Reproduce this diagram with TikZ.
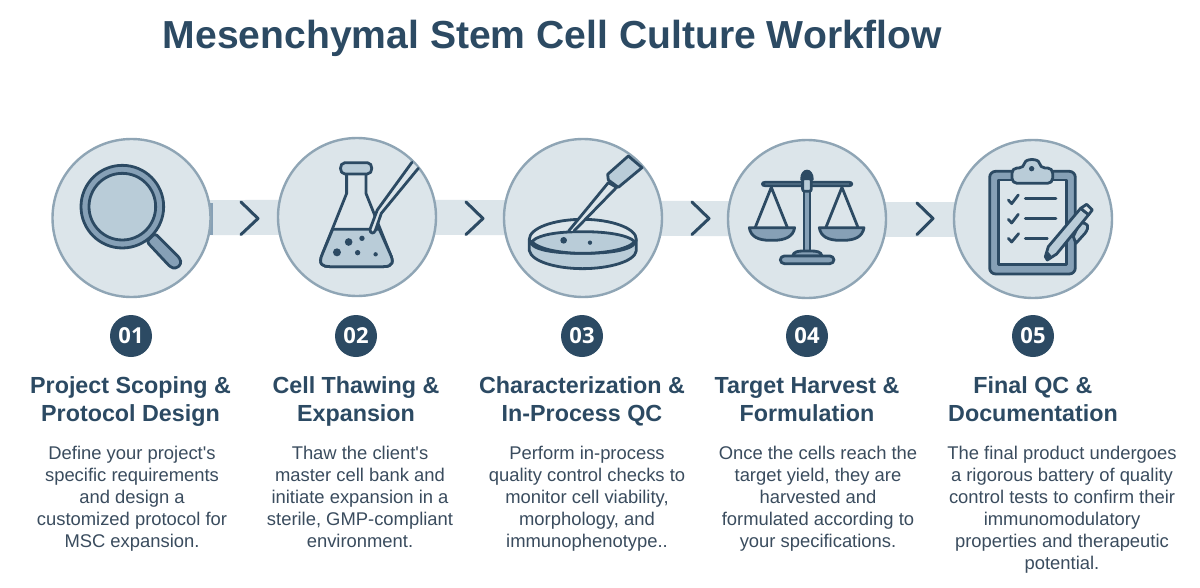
\documentclass[tikz,border=0pt]{standalone}
\usepackage{fontspec}
\setmainfont{Liberation Sans}[Ligatures=TeXOff]
\newfontfamily\badgefont{Open Sans}
\definecolor{ink}{HTML}{2C4A63}
\definecolor{disc}{HTML}{DCE5EA}
\definecolor{rim}{HTML}{8FA5B5}
\definecolor{pale}{HTML}{B9CCD8}
\definecolor{mid}{HTML}{86A0B6}
\definecolor{body}{HTML}{3A4C5E}
\tikzset{
  disc/.style={circle,draw=rim,fill=disc,line width=2.4pt,minimum size=158pt,inner sep=0pt},
  band/.style={draw=disc,line width=35pt},
  chev/.style={draw=ink,line width=3pt,line cap=round,line join=round},
  badge/.style={circle,fill=ink,minimum size=42pt,inner sep=0pt,text=white,font=\badgefont\fontsize{22}{22}\selectfont\bfseries},
  head/.style={align=center,text=ink,anchor=north,font=\fontsize{23.3}{28}\selectfont\bfseries},
  txt/.style={align=center,text=body,anchor=north,font=\fontsize{18.4}{22}\selectfont},
  ic/.style={draw=ink,line width=2.8pt,line join=round,line cap=round},
  zoomA/.style={shift={(40,130)},x=0.3333pt,y=-0.3333pt},
  zoomB/.style={shift={(440,130)},x=0.3333pt,y=-0.3333pt},
  zoomC/.style={shift={(840,130)},x=0.3333pt,y=-0.3333pt},
}
\begin{document}
\begin{tikzpicture}[x=1pt,y=-1pt]
\useasboundingbox (0,0) rectangle (1200,587);
\fill[white] (0,0) rectangle (1200,587);
\node[anchor=center,text=ink,font=\fontsize{39.1}{42}\selectfont\bfseries] (title) at (552.5,38.5) {Mesenchymal Stem Cell Culture Workflow};
% discs positions
\coordinate (c1) at (131.5,218);
\coordinate (c2) at (357,217);
\coordinate (c3) at (583,218);
\coordinate (c4) at (807,219);
\coordinate (c5) at (1033,219);
\draw[band] (c1) -- (c2);
\draw[band] (c2) -- (c3);
\draw[band] (c3) -- (c4);
\draw[band] (c4) -- (c5);
\draw[draw=mid,line width=3pt] (211.5,203) -- (211.5,235);
\node[disc] (d1) at (c1) {};
\node[disc] (d2) at (c2) {};
\node[disc] (d3) at (c3) {};
\node[disc] (d4) at (c4) {};
\node[disc] (d5) at (c5) {};
% chevrons
\draw[chev] (241,202) -- (258,218.5) -- (241,234.5);
\draw[chev] (466,202) -- (483,218.5) -- (466,234.5);
\draw[chev] (692,202) -- (709,218.5) -- (692,234.5);
\draw[chev] (917,203) -- (933,218.5) -- (917,234.5);
% icon 1: magnifier
\begin{scope}[zoomA]
\draw[ic,fill=mid,rounded corners=3pt] (320,335) -- (345,310) -- (420,385) -- (424,402) -- (408,416) -- (392,412) -- cycle;
\draw[ic,fill=mid] (247,230) circle (124);
\draw[ic,fill=pale] (247,230) circle (100);
\end{scope}
% icon 2: flask
\begin{scope}[zoomA]
\draw[ic,fill=disc] (920,130) -- (920,190) -- (848,370) .. controls (832,405) and (850,410) .. (870,410) -- (1030,410) .. controls (1060,410) and (1062,395) .. (1050,370) -- (978,190) -- (978,130) -- cycle;
\draw[ic,fill=pale] (878,298) -- (848,370) .. controls (832,405) and (850,410) .. (870,410) -- (1030,410) .. controls (1060,410) and (1062,395) .. (1050,370) -- (1018,298) -- cycle;
\draw[ic,fill=pale] (915,98) -- (982,98) .. controls (1000,98) and (1000,132) .. (982,132) -- (915,132) .. controls (897,132) and (897,98) .. (915,98) -- cycle;
\fill[ink] (926,336) circle (11.5) (966,325) circle (8) (891,367) circle (12) (953,368) circle (8) (1007,373) circle (6.5);
\draw[ic,fill=disc] (1116,97) -- (1012,240) -- (990,298) .. controls (990,312) and (1002,312) .. (1006,302) -- (1024,250) -- (1135,115);
\end{scope}
% icon 3: dish
\begin{scope}[zoomB]
\draw[ic,fill=pale] (268,330) -- (268,362) .. controls (275,395) and (350,416) .. (428,416) .. controls (505,416) and (585,395) .. (589,362) -- (589,330) -- cycle;
\draw[ic,fill=disc] (428,268) .. controls (340,268) and (268,295) .. (268,328) .. controls (268,360) and (340,370) .. (428,370) .. controls (515,370) and (589,360) .. (589,328) .. controls (589,295) and (515,268) .. (428,268) -- cycle;
\draw[ic,fill=pale] (275,335) .. controls (300,310) and (370,305) .. (428,305) .. controls (490,305) and (560,312) .. (585,335) .. controls (560,360) and (490,370) .. (428,370) .. controls (370,370) and (300,360) .. (275,335) -- cycle;
\fill[ink] (371,331) circle (10) (450,338) circle (6.5);
\draw[ic,fill=disc] (386,303) -- (505,158) -- (530,172) -- (402,303);
\draw[ic,fill=pale] (503,133) -- (565,78) -- (606,113) -- (535,172) -- (505,150) -- cycle;
\end{scope}
% icon 4: scales
\begin{scope}[zoomB]
\draw[ic,fill=mid] (975,157) -- (1228,157) .. controls (1238,157) and (1238,167) .. (1228,167) -- (975,167) .. controls (965,167) and (965,157) .. (975,157) -- cycle;
\draw[ic] (994,172) -- (946,292) (994,172) -- (1042,292);
\draw[ic] (1206,172) -- (1158,292) (1206,172) -- (1254,292);
\draw[ic,fill=mid] (928,293) -- (1064,293) .. controls (1060,320) and (1035,331) .. (1000,331) -- (990,331) .. controls (955,331) and (932,320) .. (928,293) -- cycle;
\draw[ic,fill=mid] (1138,293) -- (1272,293) .. controls (1268,320) and (1245,331) .. (1210,331) -- (1200,331) .. controls (1165,331) and (1142,320) .. (1138,293) -- cycle;
\draw[ic,fill=mid] (1092,180) -- (1110,180) -- (1110,365) -- (1092,365) -- cycle;
\draw[ic,fill=ink] (1085,148) .. controls (1085,115) and (1117,115) .. (1117,148) -- cycle;
\draw[ic,fill=pale,rounded corners=2pt] (1088,146) -- (1114,146) -- (1114,184) -- (1088,184) -- cycle;
\draw[ic,fill=mid] (1058,378) .. controls (1060,365) and (1075,363) .. (1090,363) -- (1112,363) .. controls (1130,363) and (1144,365) .. (1146,378) -- cycle;
\draw[ic,fill=mid,rounded corners=4pt] (1021,378) -- (1182,378) -- (1182,401) -- (1021,401) -- cycle;
\end{scope}
% icon 5: clipboard
\begin{scope}[zoomC]
\draw[ic,fill=mid,rounded corners=6pt] (449,124) -- (706,124) -- (706,432) -- (449,432) -- cycle;
\draw[ic,fill=disc] (476,150) -- (680,150) -- (680,404) -- (476,404) -- cycle;
\draw[ic,fill=pale,rounded corners=5pt] (516,114) -- (552,114) .. controls (556,85) and (596,85) .. (600,114) -- (638,114) -- (638,160) -- (516,160) -- cycle;
\fill[ink] (575,116) circle (8);
\draw[ic] (505,210) -- (515,221) -- (535,195);
\draw[ic] (505,268) -- (515,279) -- (535,253);
\draw[ic] (505,325) -- (515,336) -- (536,311);
\draw[ic] (556,206) -- (648,206) (556,266) -- (648,266) (556,325) -- (622,325);
\draw[ic,fill=pale] (718,280) .. controls (745,275) and (750,290) .. (735,310) -- (708,340) -- (700,320) -- cycle;
\draw[ic,fill=pale] (616,380) -- (625,350) -- (722,235) -- (746,254) -- (650,372) -- (622,390) -- cycle;
\draw[ic,fill=disc] (722,235) -- (740,223) -- (757,240) -- (746,254) -- cycle;
\fill[ink] (616,380) -- (625,366) -- (634,377) -- (622,390) -- cycle;
\end{scope}
% badges
\node[badge] (b1) at (131,336) {01};
\node[badge] (b2) at (356,336) {02};
\node[badge] (b3) at (582,336) {03};
\node[badge] (b4) at (807,336) {04};
\node[badge] (b5) at (1033,336) {05};
% headings
\node[head] (h1) at (130.5,373) {Project Scoping \&\\Protocol Design};
\node[head] (h2) at (356,373) {Cell Thawing \&\\Expansion};
\node[head] (h3) at (582,373) {Characterization \&\\In-Process QC};
\node[head] (h4) at (807,374) {Target Harvest \&\\Formulation};
\node[head] (h5) at (1033,373) {Final QC \&\\Documentation};
% body
\node[txt] (t1) at (132,443) {Define your project's\\specific requirements\\and design a\\customized protocol for\\MSC expansion.};
\node[txt] (t2) at (360,443) {Thaw the client's\\master cell bank and\\initiate expansion in a\\sterile, GMP-compliant\\environment.};
\node[txt] (t3) at (587,443) {Perform in-process\\quality control checks to\\monitor cell viability,\\morphology, and\\immunophenotype..};
\node[txt] (t4) at (818,443) {Once the cells reach the\\target yield, they are\\harvested and\\formulated according to\\your specifications.};
\node[txt] (t5) at (1062,443) {The final product undergoes\\a rigorous battery of quality\\control tests to confirm their\\immunomodulatory\\properties and therapeutic\\potential.};
\end{tikzpicture}
\end{document}
